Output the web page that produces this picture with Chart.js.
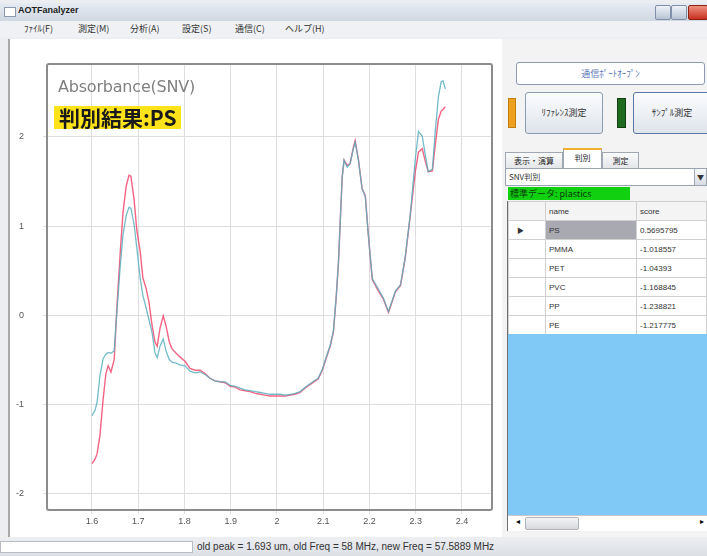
<!DOCTYPE html>
<html><head><meta charset="utf-8">
<script src="https://cdn.jsdelivr.net/npm/chart.js@4/dist/chart.umd.min.js"></script>
<style>
html,body{margin:0;padding:0;}
body{width:707px;height:556px;overflow:hidden;position:relative;background:#eceef2;font-family:"Liberation Sans","Noto Sans CJK JP",sans-serif;}
.abs{position:absolute;}
#titlebar{left:0;top:3px;width:707px;height:18px;background:linear-gradient(#e6ebf2,#cfd7e2);}
#title{left:18px;top:5px;font-size:9px;font-weight:bold;color:#222;}
#icon{left:4px;top:7px;width:10px;height:8px;background:#fff;border:1px solid #8a9ab0;}
.wbtn{top:5px;width:14px;height:13px;border:1px solid #8090a8;border-radius:2px;background:linear-gradient(#eef2f8,#b8c4d4);}
#menubar{left:0;top:21px;width:707px;height:16px;background:#f0f1f4;}
.menu{top:22px;font-size:9px;color:#333;font-family:"Noto Sans CJK JP",sans-serif;}
#leftpanel{left:8px;top:39px;width:493px;height:498px;background:#fff;border-left:2px solid #a8a8a8;}
#rightpanel{left:502px;top:39px;width:205px;height:498px;background:#f3f3f3;}
#chartwrap{left:0;top:0;width:500px;height:540px;}
#ttl1{left:58px;top:77px;font-size:16px;color:#808080;font-family:"DejaVu Sans",sans-serif;letter-spacing:-0.2px;}
#ttl2{left:54px;top:106px;height:23px;padding:0 4px 0 5px;background:#ffe31a;font-size:21px;font-weight:bold;line-height:23px;color:#1a1a1a;font-family:"Noto Sans CJK JP",sans-serif;}
.btn{border:1px solid #8c9cb0;border-radius:3px;background:linear-gradient(#fbfcfe,#dfe4ea);font-size:9px;color:#333;text-align:center;font-family:"Noto Sans CJK JP",sans-serif;}
.tab{top:152px;height:15px;border:1px solid #a0a8b4;border-bottom:none;background:linear-gradient(#fafafa,#e4e6ea);font-size:8px;line-height:15px;text-align:center;color:#222;font-family:"Noto Sans CJK JP",sans-serif;}
table{border-collapse:collapse;}
#grid{left:508px;top:201px;width:199px;font-size:8px;color:#333;}
#grid td{height:18px;border:1px solid #d0d0d0;padding:0 0 0 3px;background:#fff;}
#status{left:0;top:538px;width:707px;height:18px;background:linear-gradient(#eceef2,#dcdfe4);}
</style></head><body>
<div id="titlebar" class="abs"></div>
<div id="icon" class="abs"></div>
<div id="title" class="abs">AOTFanalyzer</div>
<div class="abs wbtn" style="left:655px;"></div>
<div class="abs wbtn" style="left:671px;"></div>
<div class="abs wbtn" style="left:688px;width:18px;background:linear-gradient(#f09080,#c83020);border-color:#902010;"></div>
<div id="menubar" class="abs"></div>
<div class="abs menu" style="left:24px;">ﾌｧｲﾙ(F)</div>
<div class="abs menu" style="left:78px;">測定(M)</div>
<div class="abs menu" style="left:130px;">分析(A)</div>
<div class="abs menu" style="left:182px;">設定(S)</div>
<div class="abs menu" style="left:235px;">通信(C)</div>
<div class="abs menu" style="left:285px;">ヘルプ(H)</div>

<div id="leftpanel" class="abs"></div>
<div id="rightpanel" class="abs"></div>

<div class="abs btn" style="left:516px;top:62px;width:187px;height:21px;line-height:21px;background:#fff;color:#5a78b8;">通信ﾎﾟｰﾄｵｰﾌﾟﾝ</div>
<div class="abs" style="left:508px;top:98px;width:8px;height:30px;background:#f0a020;border:1px solid #c08010;box-sizing:border-box;"></div>
<div class="abs btn" style="left:525px;top:92px;width:76px;height:40px;line-height:40px;">ﾘﾌｧﾚﾝｽ測定</div>
<div class="abs" style="left:617px;top:98px;width:9px;height:30px;background:#1e6a1e;border:1px solid #104010;box-sizing:border-box;"></div>
<div class="abs btn" style="left:633px;top:92px;width:76px;height:40px;line-height:40px;border-color:#5878a8;">ｻﾝﾌﾟﾙ測定</div>

<div class="abs tab" style="left:505px;width:56px;">表示・演算</div>
<div class="abs tab" style="left:563px;top:148px;height:19px;width:37px;background:#fff;border-top:2px solid #f0b030;">判別</div>
<div class="abs tab" style="left:602px;width:35px;">測定</div>
<div class="abs" style="left:505px;top:168px;width:200px;height:16px;background:#fff;border:1px solid #9aa4b0;font-size:8px;line-height:16px;font-family:'Noto Sans CJK JP',sans-serif;color:#333;"><span style="padding-left:3px;">SNV判別</span><div class="abs" style="right:0;top:0;width:11px;height:16px;background:linear-gradient(#f6f7f9,#d8dce2);border-left:1px solid #a0a8b4;font-size:7px;text-align:center;">▼</div></div>
<div class="abs" style="left:508px;top:187px;width:122px;height:13px;background:#10d010;font-size:9px;line-height:13px;color:#0a3a0a;font-family:'Noto Sans CJK JP',sans-serif;"><span style="padding-left:2px;">標準データ: plastics</span></div>

<table id="grid" class="abs">
<tr><td style="width:33px;background:#f4f4f4;"></td><td style="width:87px;background:#f4f4f4;">name</td><td style="background:#f4f4f4;">score</td></tr>
<tr><td style="font-size:7px;padding-left:8px;">▶</td><td style="background:#a9a9b2;">PS</td><td>0.5695795</td></tr>
<tr><td></td><td>PMMA</td><td>-1.018557</td></tr>
<tr><td></td><td>PET</td><td>-1.04393</td></tr>
<tr><td></td><td>PVC</td><td>-1.168845</td></tr>
<tr><td></td><td>PP</td><td>-1.238821</td></tr>
<tr><td></td><td>PE</td><td>-1.217775</td></tr>
</table>
<div class="abs" style="left:508px;top:334px;width:199px;height:181px;background:#80c8f6;"></div>
<div class="abs" style="left:507px;top:201px;width:1px;height:330px;background:#707070;"></div>
<div class="abs" style="left:508px;top:515px;width:199px;height:15px;background:#fff;border-top:1px solid #c8c8c8;"></div>
<div class="abs" style="left:511px;top:517px;width:13px;height:12px;font-size:8px;text-align:center;">◂</div>
<div class="abs" style="left:525px;top:517px;width:52px;height:11px;background:linear-gradient(#f4f4f6,#d6d8dc);border:1px solid #b0b4ba;border-radius:2px;"></div>
<div class="abs" style="left:696px;top:517px;width:11px;height:12px;font-size:8px;text-align:center;">▸</div>

<div id="chartwrap" class="abs"><canvas id="c" width="500" height="540"></canvas></div>
<div id="ttl1" class="abs">Absorbance(SNV)</div>
<div id="ttl2" class="abs">判別結果:PS</div>

<div id="status" class="abs"></div>
<div class="abs" style="left:0;top:541px;width:193px;height:12px;background:#fff;border:1px solid #b8bcc4;box-sizing:border-box;"></div>
<div class="abs" style="left:197px;top:541px;font-size:10px;color:#333;">old peak = 1.693 um, old Freq = 58 MHz, new Freq = 57.5889 MHz</div>

<script>
const wavelength = [1.600,1.6065,1.611,1.617,1.624,1.630,1.635,1.641,1.648,1.654,1.661,1.667,1.674,1.680,1.684,1.691,1.697,1.704,1.710,1.717,1.723,1.730,1.736,1.741,1.747,1.754,1.760,1.767,1.773,1.782,1.790,1.801,1.812,1.823,1.834,1.845,1.855,1.866,1.877,1.888,1.899,1.910,1.920,1.931,1.942,1.953,1.964,1.974,1.985,1.996,2.007,2.018,2.029,2.039,2.050,2.061,2.072,2.083,2.089,2.098,2.106,2.115,2.122,2.128,2.133,2.137,2.141,2.145,2.152,2.158,2.165,2.169,2.176,2.184,2.191,2.197,2.206,2.217,2.230,2.241,2.249,2.256,2.267,2.277,2.288,2.299,2.306,2.314,2.321,2.327,2.336,2.342,2.349,2.355,2.359,2.364];
const sampleValues = [-1.67,-1.62,-1.56,-1.36,-0.95,-0.66,-0.57,-0.64,-0.50,0.10,0.70,1.15,1.45,1.57,1.56,1.30,0.95,0.72,0.42,0.30,0.15,-0.12,-0.30,-0.35,-0.15,-0.01,-0.12,-0.30,-0.38,-0.43,-0.47,-0.52,-0.60,-0.62,-0.62,-0.66,-0.71,-0.74,-0.75,-0.76,-0.80,-0.81,-0.84,-0.85,-0.86,-0.88,-0.89,-0.90,-0.91,-0.91,-0.91,-0.91,-0.90,-0.89,-0.87,-0.82,-0.78,-0.74,-0.72,-0.62,-0.49,-0.35,-0.19,0.20,0.60,1.08,1.55,1.74,1.68,1.70,1.88,1.96,1.75,1.42,1.34,0.93,0.40,0.29,0.18,0.03,0.15,0.26,0.33,0.63,1.11,1.61,1.83,1.87,1.72,1.61,1.62,1.90,2.20,2.29,2.31,2.34];
const referenceValues = [-1.13,-1.07,-0.98,-0.69,-0.49,-0.44,-0.42,-0.43,-0.40,0.05,0.55,0.90,1.12,1.21,1.20,1.02,0.75,0.42,0.22,0.08,-0.05,-0.20,-0.42,-0.48,-0.35,-0.27,-0.40,-0.50,-0.53,-0.54,-0.56,-0.57,-0.63,-0.65,-0.64,-0.67,-0.71,-0.74,-0.75,-0.75,-0.79,-0.80,-0.82,-0.84,-0.85,-0.86,-0.87,-0.88,-0.89,-0.89,-0.89,-0.90,-0.89,-0.88,-0.86,-0.81,-0.77,-0.73,-0.71,-0.61,-0.48,-0.34,-0.18,0.20,0.60,1.08,1.55,1.74,1.66,1.70,1.86,1.94,1.74,1.42,1.33,0.93,0.41,0.31,0.19,0.04,0.16,0.27,0.34,0.64,1.12,1.75,2.06,2.01,1.79,1.61,1.64,2.05,2.45,2.62,2.63,2.54];
const xTicks = [1.6,1.7,1.8,1.9,2.0,2.1,2.2,2.3,2.4];
const xTickLabels = ["1.6","1.7","1.8","1.9","2","2.1","2.2","2.3","2.4"];
const yTicks = [-2,-1,0,1,2];
const yTickLabels = ["-2","-1","0","1","2"];

const boxPlugin = {
  id:'box',
  afterDraw(chart){
    const {ctx, chartArea:a} = chart;
    ctx.save();
    ctx.strokeStyle = '#8c8c8c';
    ctx.lineWidth = 2;
    ctx.beginPath();
    if (ctx.roundRect) ctx.roundRect(a.left, a.top, a.right-a.left, a.bottom-a.top, 2);
    else ctx.rect(a.left, a.top, a.right-a.left, a.bottom-a.top);
    ctx.stroke();
    ctx.restore();
  }
};

new Chart(document.getElementById('c'), {
  type:'line',
  data:{
    datasets:[
      {label:'reference', data: wavelength.map((x,i)=>({x, y: referenceValues[i]})), borderColor:'rgba(90,175,190,0.85)', borderWidth:1.3, pointRadius:0, tension:0},
      {label:'sample', data: wavelength.map((x,i)=>({x, y: sampleValues[i]})), borderColor:'rgba(240,60,100,0.8)', borderWidth:1.4, pointRadius:0, tension:0}
    ]
  },
  options:{
    responsive:false, animation:false,
    layout:{padding:{top:64,right:8,left:0,bottom:0}},
    plugins:{legend:{display:false}, tooltip:{enabled:false}},
    scales:{
      x:{type:'linear', min:1.5027, max:2.4649,
        afterBuildTicks:s=>{s.ticks = xTicks.map(v=>({value:v}));},
        afterFit:s=>{s.height = 30;},
        ticks:{callback:(v)=>{const i=xTicks.findIndex(t=>Math.abs(t-v)<1e-6); return i>=0?xTickLabels[i]:'';}, font:{size:9, family:'Liberation Sans'}, color:'#555', padding:2, maxRotation:0, autoSkip:false},
        grid:{color:'#dedede', lineWidth:1, tickLength:4},
        border:{display:false}
      },
      y:{type:'linear', min:-2.19, max:2.82,
        afterBuildTicks:s=>{s.ticks = yTicks.map(v=>({value:v}));},
        afterFit:s=>{s.width = 47;},
        ticks:{callback:(v)=>{const i=yTicks.findIndex(t=>Math.abs(t-v)<1e-6); return i>=0?yTickLabels[i]:'';}, font:{size:9, family:'Liberation Sans'}, color:'#555', padding:19, autoSkip:false},
        grid:{color:'#dedede', lineWidth:1, tickLength:4},
        border:{display:false}
      }
    }
  },
  plugins:[boxPlugin]
});
</script>
</body></html>
